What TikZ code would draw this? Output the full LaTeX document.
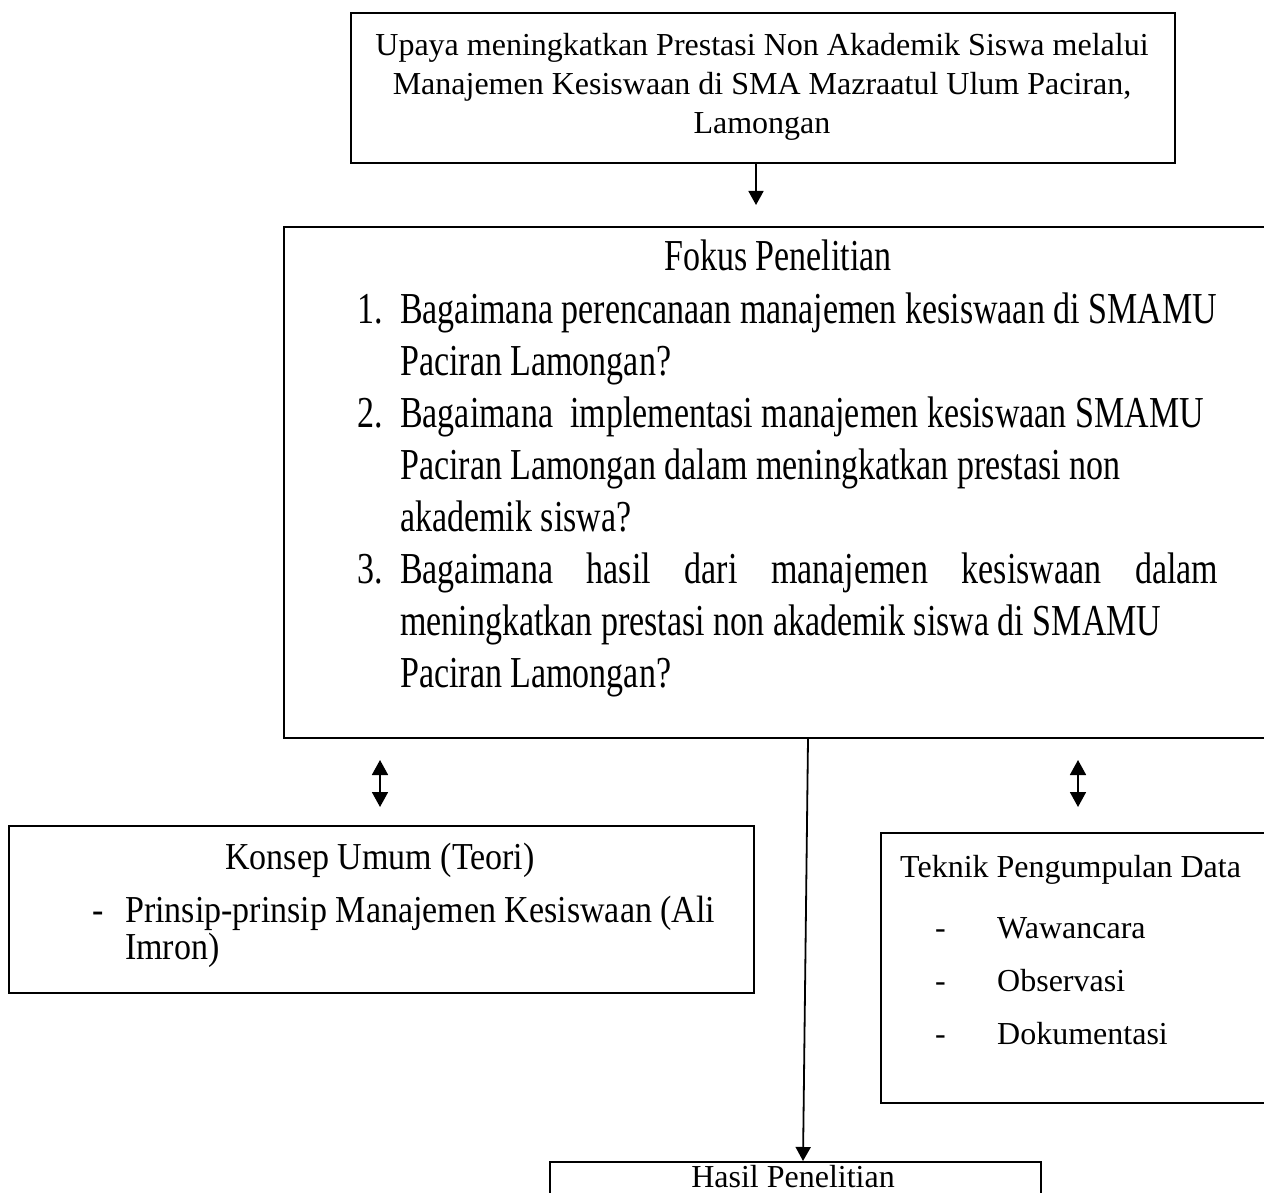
\documentclass[tikz,border=0pt]{standalone}
\usepackage{fontspec}
\setmainfont{Liberation Serif}
\usetikzlibrary{arrows.meta}
\tikzset{box/.style={draw,line width=2pt,anchor=north west,inner sep=0pt},
  txt/.style={inner sep=0pt,anchor=base west},
  ctxt/.style={inner sep=0pt,anchor=base},
  arr/.style={line width=1.8pt,-{Triangle[width=15pt,length=14pt]}},
  darr/.style={line width=1.8pt,{Triangle[width=16pt,length=15pt]}-{Triangle[width=16pt,length=15pt]}}}
\newcommand{\tallF}[1]{\scalebox{1}[1.3]{#1}}
\newcommand{\tallK}[1]{\scalebox{1}[1.12]{#1}}

\begin{document}
\begin{tikzpicture}[x=1pt,y=-1pt]
\path[use as bounding box] (0,0) rectangle (1264,1193);
\clip (0,0) rectangle (1264,1193);
\tikzset{jtxt/.style={ctxt,font=\fontsize{32}{38}\selectfont},
  ftxt/.style={txt,font=\fontsize{34}{40}\selectfont},
  ktxt/.style={txt,font=\fontsize{34}{40}\selectfont},
  ttxt/.style={txt,font=\fontsize{32}{38}\selectfont}}

% boxes
\node[box,minimum width=824pt,minimum height=150pt] (judul) at (350,12) {};
\node[box,minimum width=1000pt,minimum height=511pt] (fokus) at (283,226) {};
\node[box,minimum width=745pt,minimum height=167pt] (konsep) at (8,825) {};
\node[box,minimum width=420pt,minimum height=270pt] (teknik) at (880,832) {};
\node[box,minimum width=491pt,minimum height=80pt] (hasil) at (549,1161) {};

% judul
\node[jtxt] (j1) at (762,56) {Upaya meningkatkan Prestasi Non Akademik Siswa melalui};
\node[jtxt] (j2) at (762,95) {Manajemen Kesiswaan di SMA Mazraatul Ulum Paciran,};
\node[jtxt] (j3) at (762,134) {Lamongan};

% fokus penelitian
\node[ftxt,anchor=base] (f0) at (778,271) {\tallF{Fokus Penelitian}};
\node[ftxt] (n1) at (357,323) {\tallF{1.}};
\node[ftxt] (f1) at (400,323) {\tallF{Bagaimana perencanaan manajemen kesiswaan di SMAMU}};
\node[ftxt] (f2) at (400,375) {\tallF{Paciran Lamongan?}};
\node[ftxt] (n2) at (357,427) {\tallF{2.}};
\node[ftxt] (f3) at (400,427) {\tallF{Bagaimana~ implementasi manajemen kesiswaan SMAMU}};
\node[ftxt] (f4) at (400,479) {\tallF{Paciran Lamongan dalam meningkatkan prestasi non}};
\node[ftxt] (f5) at (400,531) {\tallF{akademik siswa?}};
\node[ftxt] (n3) at (357,583) {\tallF{3.}};
\node[ftxt] (f6) at (400,583) {\tallF{\makebox[818pt][s]{Bagaimana hasil dari manajemen kesiswaan dalam}}};
\node[ftxt] (f7) at (400,635) {\tallF{meningkatkan prestasi non akademik siswa di SMAMU}};
\node[ftxt] (f8) at (400,687) {\tallF{Paciran Lamongan?}};

% konsep umum
\node[ktxt,anchor=base] (k0) at (380,869) {\tallK{Konsep Umum (Teori)}};
\node[ktxt] (kd) at (92,922) {\tallK{-}};
\node[ktxt] (k1) at (125,922) {\tallK{Prinsip-prinsip Manajemen Kesiswaan (Ali}};
\node[ktxt] (k2) at (125,959) {\tallK{Imron)}};

% teknik pengumpulan data
\node[ttxt] (t0) at (900,877) {Teknik Pengumpulan Data};
\node[ttxt] (td1) at (935,938) {-};
\node[ttxt] (t1) at (997,938) {Wawancara};
\node[ttxt] (td2) at (935,991) {-};
\node[ttxt] (t2) at (997,991) {Observasi};
\node[ttxt] (td3) at (935,1044) {-};
\node[ttxt] (t3) at (997,1044) {Dokumentasi};

% hasil
\node[jtxt] (h0) at (793,1187) {Hasil Penelitian};

% connectors
\coordinate (a1) at (756,205);
\draw[arr] ([xshift=406pt]judul.south west) -- (a1);
\coordinate (d1a) at (380,760);
\coordinate (d1b) at (380,807);
\draw[darr] (d1a) -- (d1b);
\coordinate (d2a) at (1078,760);
\coordinate (d2b) at (1078,807);
\draw[darr] (d2a) -- (d2b);
\draw[arr] ([xshift=525pt]fokus.south west) -- ([xshift=254pt]hasil.north west);
\end{tikzpicture}
\end{document}
